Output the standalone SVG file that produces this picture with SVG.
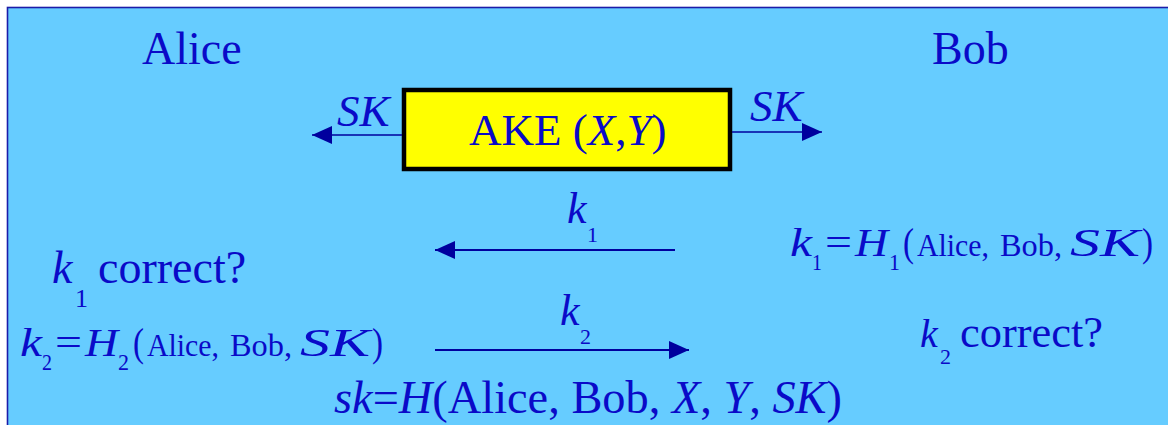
<svg xmlns="http://www.w3.org/2000/svg" width="1168" height="425" viewBox="0 0 1168 425">
<defs>
<marker id="ah" markerUnits="userSpaceOnUse" markerWidth="22" markerHeight="18" refX="20" refY="9" orient="auto">
<path d="M0,0 L20,9 L0,18 Z" fill="#00009e"/>
</marker>
</defs>
<rect x="0" y="0" width="1168" height="425" fill="#ffffff"/>
<rect id="bg" x="7.5" y="7.5" width="1170" height="430" fill="#66ccff" stroke="#1c1ca8" stroke-width="1.6"/>

<g font-family="Liberation Serif" fill="#0a0ac8">
<g id="alice"><text x="142" y="64" font-size="46">Alice</text></g>
<g id="bob"><text x="932" y="64" font-size="46">Bob</text></g>

<g id="ake">
<rect x="404" y="90" width="326" height="79" fill="#ffff00" stroke="#000000" stroke-width="4.5"/>
<text x="469" y="145" font-size="45">AKE (<tspan font-style="italic">X</tspan>,<tspan font-style="italic">Y</tspan>)</text>
</g>

<g id="labels">
<text font-style="italic" x="337" y="126" font-size="45">SK</text>
<text font-style="italic" x="750" y="121" font-size="45">SK</text>
<text font-style="italic" x="567" y="223" font-size="44">k</text>
<text x="587" y="242" font-size="22">1</text>
<text font-style="italic" x="560" y="325" font-size="44">k</text>
<text x="580" y="344" font-size="22">2</text>
</g>

<g id="alice-check">
<text font-style="italic" x="52" y="283" font-size="46">k</text>
<text x="75" y="307" font-size="26">1</text>
<text x="98" y="283" font-size="46">correct?</text>
</g>

<g id="alice-k2" lengthAdjust="spacingAndGlyphs">
<text font-style="italic" x="20" y="356" font-size="40" textLength="22" lengthAdjust="spacingAndGlyphs">k</text>
<text x="42" y="370" font-size="24" textLength="10" lengthAdjust="spacingAndGlyphs">2</text>
<text x="55" y="356" font-size="40" textLength="27" lengthAdjust="spacingAndGlyphs">=</text>
<text font-style="italic" x="85" y="356" font-size="40" textLength="33" lengthAdjust="spacingAndGlyphs">H</text>
<text x="118" y="370" font-size="24" textLength="11" lengthAdjust="spacingAndGlyphs">2</text>
<text x="133" y="356" font-size="40" textLength="11" lengthAdjust="spacingAndGlyphs">(</text>
<text x="147" y="356" font-size="32" textLength="72" lengthAdjust="spacingAndGlyphs">Alice,</text>
<text x="230" y="356" font-size="32" textLength="62" lengthAdjust="spacingAndGlyphs">Bob,</text>
<text font-style="italic" x="300" y="356" font-size="40" textLength="70" lengthAdjust="spacingAndGlyphs">SK</text>
<text x="372" y="356" font-size="40" textLength="11" lengthAdjust="spacingAndGlyphs">)</text>
</g>

<g id="bob-k1">
<text font-style="italic" x="790" y="256" font-size="40" textLength="22" lengthAdjust="spacingAndGlyphs">k</text>
<text x="812" y="270" font-size="24" textLength="10" lengthAdjust="spacingAndGlyphs">1</text>
<text x="825" y="256" font-size="40" textLength="27" lengthAdjust="spacingAndGlyphs">=</text>
<text font-style="italic" x="855" y="256" font-size="40" textLength="33" lengthAdjust="spacingAndGlyphs">H</text>
<text x="889" y="270" font-size="24" textLength="11" lengthAdjust="spacingAndGlyphs">1</text>
<text x="903" y="256" font-size="40" textLength="11" lengthAdjust="spacingAndGlyphs">(</text>
<text x="917" y="256" font-size="32" textLength="72" lengthAdjust="spacingAndGlyphs">Alice,</text>
<text x="1000" y="256" font-size="32" textLength="62" lengthAdjust="spacingAndGlyphs">Bob,</text>
<text font-style="italic" x="1070" y="256" font-size="40" textLength="70" lengthAdjust="spacingAndGlyphs">SK</text>
<text x="1142" y="256" font-size="40" textLength="11" lengthAdjust="spacingAndGlyphs">)</text>
</g>

<g id="bob-check">
<text font-style="italic" x="920" y="347" font-size="40">k</text>
<text x="940" y="364" font-size="22">2</text>
<text x="960" y="347" font-size="44" textLength="143" lengthAdjust="spacingAndGlyphs">correct?</text>
</g>

<g id="sk">
<text x="334" y="413" font-size="46" textLength="508" lengthAdjust="spacingAndGlyphs"><tspan font-style="italic">sk</tspan>=<tspan font-style="italic">H</tspan>(Alice, Bob, <tspan font-style="italic">X</tspan>, <tspan font-style="italic">Y</tspan>, <tspan font-style="italic">SK</tspan>)</text>
</g>
</g>

<g id="connectors" stroke="#00009e" fill="none">
<line x1="402" y1="135" x2="312" y2="135" marker-end="url(#ah)" stroke-width="1.6"/>
<line x1="732" y1="132" x2="822" y2="132" marker-end="url(#ah)" stroke-width="1.6"/>
<line x1="675" y1="250" x2="435" y2="250" marker-end="url(#ah)" stroke-width="2"/>
<line x1="435" y1="350" x2="689" y2="350" marker-end="url(#ah)" stroke-width="2"/>
</g>
</svg>
